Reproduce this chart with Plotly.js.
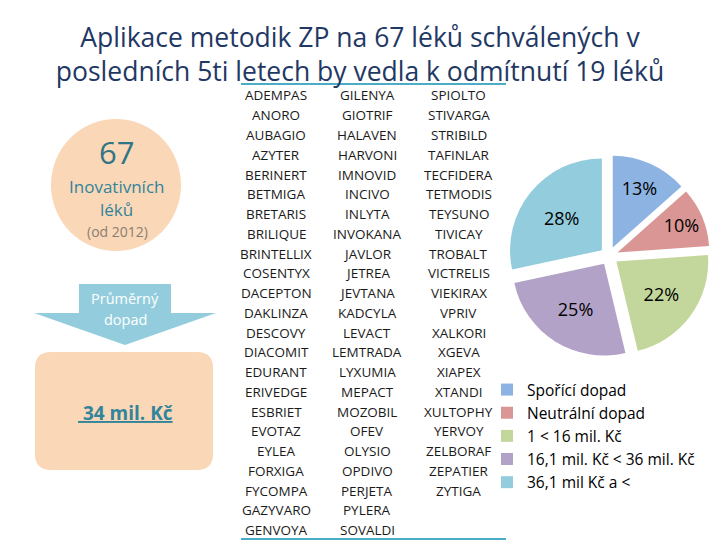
<!DOCTYPE html>
<html><head><meta charset="utf-8">
<script src="https://cdn.plot.ly/plotly-3.0.1.min.js"></script>
<style>html,body{margin:0;padding:0;background:#fff}</style>
</head><body><div id="chart" style="width:720px;height:540px"></div>
<script>
// ---- data ----
const categories = ["Spořící dopad", "Neutrální dopad", "1 < 16 mil. Kč", "16,1 mil. Kč < 36 mil. Kč", "36,1 mil Kč a <"];
const drugCounts = [9, 7, 15, 17, 19];
const sliceColors = ["#8DB3E2", "#D99694", "#C3D69B", "#B3A2C7", "#93CDDD"];
const drugsCol1 = ["ADEMPAS","ANORO","AUBAGIO","AZYTER","BERINERT","BETMIGA","BRETARIS","BRILIQUE","BRINTELLIX","COSENTYX","DACEPTON","DAKLINZA","DESCOVY","DIACOMIT","EDURANT","ERIVEDGE","ESBRIET","EVOTAZ","EYLEA","FORXIGA","FYCOMPA","GAZYVARO","GENVOYA"];
const drugsCol2 = ["GILENYA","GIOTRIF","HALAVEN","HARVONI","IMNOVID","INCIVO","INLYTA","INVOKANA","JAVLOR","JETREA","JEVTANA","KADCYLA","LEVACT","LEMTRADA","LYXUMIA","MEPACT","MOZOBIL","OFEV","OLYSIO","OPDIVO","PERJETA","PYLERA","SOVALDI"];
const drugsCol3 = ["SPIOLTO","STIVARGA","STRIBILD","TAFINLAR","TECFIDERA","TETMODIS","TEYSUNO","TIVICAY","TROBALT","VICTRELIS","VIEKIRAX","VPRIV","XALKORI","XGEVA","XIAPEX","XTANDI","XULTOPHY","YERVOY","ZELBORAF","ZEPATIER","ZYTIGA"];
const totalDrugs = "67";
const avgImpact = "34 mil. Kč";

// ---- layout helpers (pixel -> paper) ----
const W = 720, H = 540;
const px = x => x / W, py = y => 1 - y / H;
const FONT = "Open Sans, Noto Sans, sans-serif";
const TEAL = "#31849B";

const annotations = [];
function txt(x, y, text, size, color, extra) {
  annotations.push(Object.assign({xref:"paper", yref:"paper", x:px(x), y:py(y), text:text,
    showarrow:false, xanchor:"center", yanchor:"middle",
    font:{family:FONT, size:size, color:color}}, extra || {}));
}
const colX = [276, 367, 459];
[drugsCol1, drugsCol2, drugsCol3].forEach((col, ci) => {
  col.forEach((name, ri) => txt(colX[ci], 95.5 + ri * 19.75, name, 13.5, "#1a1a1a"));
});
txt(116, 152, totalDrugs, 31, "#2F7585");
txt(116, 186, "Inovativních", 17, TEAL);
txt(116, 210, "léků", 17, TEAL);
txt(117, 232, "(od 2012)", 14, "#8A7D73");
txt(125, 298, "Průměrný", 14.5, "#ffffff");
txt(125, 319, "dopad", 14.5, "#ffffff");
txt(125, 413, "<b><u> " + avgImpact + "</u></b>", 19, TEAL);

const shapes = [
  {type:"circle", xref:"paper", yref:"paper", x0:px(51), x1:px(181), y0:py(251), y1:py(119),
   fillcolor:"#FAD7B7", line:{width:0}, layer:"below"},
  {type:"path", xref:"paper", yref:"paper",
   path:`M${px(79)},${py(284)} L${px(171)},${py(284)} L${px(171)},${py(313)} L${px(216)},${py(313)} L${px(125)},${py(345)} L${px(34)},${py(313)} L${px(79)},${py(313)} Z`,
   fillcolor:"#93CDDD", line:{width:0}, layer:"below"},
  {type:"path", xref:"paper", yref:"paper",
   path:(()=>{const x0=35,x1=213,y0=352,y1=470,r=16;
     return `M${px(x0+r)},${py(y0)} L${px(x1-r)},${py(y0)} Q${px(x1)},${py(y0)} ${px(x1)},${py(y0+r)} L${px(x1)},${py(y1-r)} Q${px(x1)},${py(y1)} ${px(x1-r)},${py(y1)} L${px(x0+r)},${py(y1)} Q${px(x0)},${py(y1)} ${px(x0)},${py(y1-r)} L${px(x0)},${py(y0+r)} Q${px(x0)},${py(y0)} ${px(x0+r)},${py(y0)} Z`;})(),
   fillcolor:"#FAD7B7", line:{width:0}, layer:"below"},
  {type:"line", xref:"paper", yref:"paper", x0:px(241), x1:px(506), y0:py(84), y1:py(84), line:{color:"#4BACC6", width:2}},
  {type:"line", xref:"paper", yref:"paper", x0:px(241), x1:px(506), y0:py(539), y1:py(539), line:{color:"#4BACC6", width:2}}
];

const data = [{
  type:"pie", labels:categories, values:drugCounts, sort:false, direction:"clockwise", rotation:0,
  marker:{colors:sliceColors, line:{color:"#ffffff", width:0}},
  pull:[0.1,0.1,0.1,0.1,0.1],
  texttemplate:"%{percent:.0%}", textposition:"inside", insidetextorientation:"horizontal",
  textfont:{family:FONT, size:18, color:"#000000"},
  domain:{x:[px(508), px(710)], y:[py(357), py(155)]},
  hoverinfo:"none"
}];

const layout = {
  width:W, height:H, margin:{l:0,r:0,t:0,b:0},
  paper_bgcolor:"#ffffff", plot_bgcolor:"#ffffff",
  title:{text:"Aplikace metodik ZP na 67 léků schválených v<br>posledních 5ti letech by vedla k odmítnutí 19 léků",
    x:0.5, xanchor:"center", y:py(46.5), yanchor:"middle",
    font:{family:FONT, size:26.5, color:"#1F3864"}},
  showlegend:true,
  legend:{x:px(487), y:py(373), xanchor:"left", yanchor:"top", font:{family:FONT, size:15.5, color:"#000"},
    itemwidth:30, bgcolor:"rgba(0,0,0,0)", tracegroupgap:0},
  annotations:annotations, shapes:shapes
};
Plotly.newPlot("chart", data, layout, {staticPlot:true});
</script></body></html>
